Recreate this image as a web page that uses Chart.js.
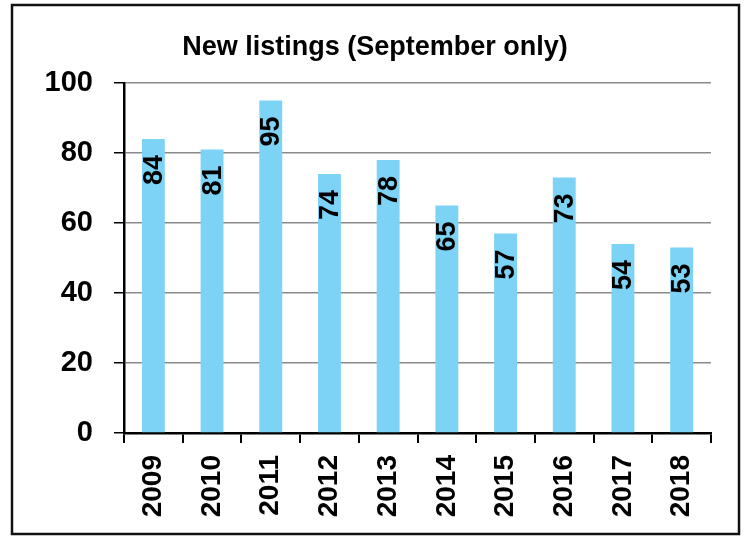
<!DOCTYPE html>
<html><head><meta charset="utf-8">
<script src="https://cdn.jsdelivr.net/npm/chart.js@4"></script>
<style>html,body{margin:0;padding:0;background:#fff}#wrap{width:748px;height:536px;position:relative}</style>
</head><body><div id="wrap"><canvas id="c" width="748" height="536"></canvas></div>
<script>
const categories = ["2009","2010","2011","2012","2013","2014","2015","2016","2017","2018"];
const newListings = [84,81,95,74,78,65,57,73,54,53];
const yTicks = [0,20,40,60,80,100];
const chartTitle = "New listings (September only)";

const FONT = "'Liberation Sans', Arial, sans-serif";

const framePlugin = {
  id: 'frame',
  afterDraw(chart) {
    const ctx = chart.ctx;
    ctx.save();
    ctx.strokeStyle = '#111';
    ctx.lineWidth = 2.5;
    ctx.strokeRect(12, 5, 727, 529);
    ctx.restore();
  }
};

const labelPlugin = {
  id: 'barLabels',
  afterDatasetsDraw(chart) {
    const ctx = chart.ctx;
    const meta = chart.getDatasetMeta(0);
    ctx.save();
    ctx.fillStyle = '#000';
    ctx.font = 'bold 27px ' + FONT;
    ctx.textAlign = 'right';
    ctx.textBaseline = 'middle';
    meta.data.forEach((bar, i) => {
      ctx.save();
      ctx.translate(bar.x, bar.y + 16);
      ctx.rotate(-Math.PI / 2);
      ctx.fillText(String(chart.data.datasets[0].data[i]), 0, 1);
      ctx.restore();
    });
    ctx.restore();
  }
};

new Chart(document.getElementById('c'), {
  type: 'bar',
  data: {
    labels: categories,
    datasets: [{
      data: newListings,
      backgroundColor: 'rgb(125,211,245)',
      borderWidth: 0,
      barPercentage: 0.39,
      categoryPercentage: 1
    }]
  },
  options: {
    responsive: false,
    animation: false,
    devicePixelRatio: 1,
    layout: { padding: { left: 39, right: 37, top: 0, bottom: 0 } },
    plugins: {
      legend: { display: false },
      tooltip: { enabled: false },
      title: {
        display: true,
        text: chartTitle,
        color: '#000',
        font: { family: FONT, size: 27, weight: 'bold', lineHeight: 1.2 },
        padding: { top: 31, bottom: 19.6 }
      }
    },
    scales: {
      x: {
        grid: { display: true, drawOnChartArea: false, offset: true, tickColor: '#000', tickLength: 10, lineWidth: 2 },
        border: { color: '#000', width: 2.5 },
        ticks: {
          color: '#000', maxRotation: 90, minRotation: 90, padding: 12,
          font: { family: FONT, size: 28, weight: 'bold' }
        },
        afterFit(scale) { scale.height = 536 - 433; }
      },
      y: {
        min: 0, max: 100,
        afterBuildTicks(scale) { scale.ticks = yTicks.map(v => ({ value: v })); },
        grid: { color: '#8a8a8a', lineWidth: 1.5, tickColor: '#000', tickLength: 10 },
        border: { color: '#000', width: 2.5 },
        ticks: {
          color: '#000', padding: 21,
          font: { family: FONT, size: 29, weight: 'bold' }
        },
        afterFit(scale) { scale.width = 124 - 39; }
      }
    }
  },
  plugins: [framePlugin, labelPlugin]
});
</script></body></html>
